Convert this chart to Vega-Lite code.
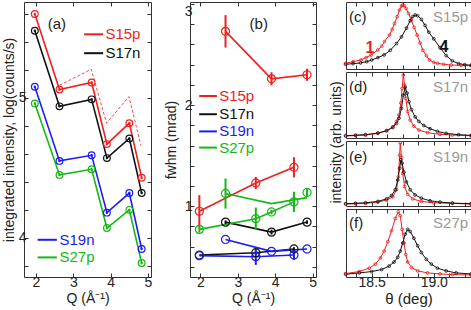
{
"$schema":"https://vega.github.io/schema/vega-lite/v6.json",
"padding":{"left":1,"top":1,"right":0,"bottom":0},
"config":{
 "font":"Liberation Sans",
 "view":{"stroke":"#333","strokeWidth":1},
 "axis":{"grid":false,"domain":false,"tickColor":"#333","tickSize":-4,"tickWidth":1,"labelFontSize":14,"titleFontSize":14,"labelColor":"#222","titleColor":"#222","titleFontWeight":"normal","labelPadding":2,"titlePadding":2,"labelOverlap":false,"tickCount":100}
},
"datasets":{
 "intens":[
  {"s":"S15p","Q":1.97,"v":5.60},{"s":"S15p","Q":2.63,"v":5.06},{"s":"S15p","Q":3.49,"v":5.11},{"s":"S15p","Q":3.90,"v":4.67},{"s":"S15p","Q":4.50,"v":4.82},{"s":"S15p","Q":4.83,"v":4.43},
  {"s":"S17n","Q":1.97,"v":5.48},{"s":"S17n","Q":2.63,"v":4.94},{"s":"S17n","Q":3.49,"v":4.99},{"s":"S17n","Q":3.90,"v":4.57},{"s":"S17n","Q":4.50,"v":4.71},{"s":"S17n","Q":4.83,"v":4.32},
  {"s":"S19n","Q":1.97,"v":5.08},{"s":"S19n","Q":2.63,"v":4.55},{"s":"S19n","Q":3.49,"v":4.59},{"s":"S19n","Q":3.90,"v":4.18},{"s":"S19n","Q":4.50,"v":4.32},{"s":"S19n","Q":4.83,"v":3.92},
  {"s":"S27p","Q":1.97,"v":4.96},{"s":"S27p","Q":2.63,"v":4.45},{"s":"S27p","Q":3.49,"v":4.49},{"s":"S27p","Q":3.90,"v":4.07},{"s":"S27p","Q":4.50,"v":4.20},{"s":"S27p","Q":4.83,"v":3.82}
 ],
 "dash":[{"Q":2.63,"v":5.09},{"Q":3.48,"v":5.205},{"Q":3.89,"v":4.82},{"Q":4.49,"v":5.01},{"Q":4.81,"v":4.66}],
 "fwhmP":[
  {"s":"S15p","Q":2.67,"v":2.73,"lo":2.57,"hi":2.89},{"s":"S15p","Q":3.90,"v":2.26,"lo":2.195,"hi":2.325},{"s":"S15p","Q":4.85,"v":2.30,"lo":2.24,"hi":2.36},
  {"s":"S15p","Q":1.97,"v":0.95,"lo":0.79,"hi":1.11},{"s":"S15p","Q":3.48,"v":1.23,"lo":1.17,"hi":1.29},{"s":"S15p","Q":4.50,"v":1.385,"lo":1.285,"hi":1.485},
  {"s":"S17n","Q":2.67,"v":0.843,"lo":0.825,"hi":0.86},{"s":"S17n","Q":3.90,"v":0.744,"lo":0.72,"hi":0.768},{"s":"S17n","Q":4.85,"v":0.843,"lo":0.825,"hi":0.86},
  {"s":"S17n","Q":4.50,"v":0.577,"lo":0.56,"hi":0.595},{"s":"S17n","Q":1.97,"v":0.517,"lo":0.517,"hi":0.517},{"s":"S17n","Q":3.48,"v":0.54,"lo":0.52,"hi":0.56},
  {"s":"S27p","Q":2.67,"v":1.126,"lo":0.976,"hi":1.275},{"s":"S27p","Q":4.85,"v":1.136,"lo":1.10,"hi":1.17},{"s":"S27p","Q":1.97,"v":0.771,"lo":0.74,"hi":0.80},
  {"s":"S27p","Q":3.48,"v":0.877,"lo":0.767,"hi":0.987},{"s":"S27p","Q":3.90,"v":0.943,"lo":0.92,"hi":0.965},{"s":"S27p","Q":4.50,"v":1.043,"lo":0.943,"hi":1.143},
  {"s":"S19n","Q":2.67,"v":0.671,"lo":0.671,"hi":0.671},{"s":"S19n","Q":3.90,"v":0.554,"lo":0.554,"hi":0.554},{"s":"S19n","Q":4.85,"v":0.577,"lo":0.577,"hi":0.577},
  {"s":"S19n","Q":1.97,"v":0.511,"lo":0.511,"hi":0.511},{"s":"S19n","Q":3.48,"v":0.501,"lo":0.42,"hi":0.58},{"s":"S19n","Q":4.50,"v":0.517,"lo":0.47,"hi":0.56}
 ],
 "fwhmL":[
  {"g":"15a","s":"S15p","Q":2.67,"v":2.73},{"g":"15a","s":"S15p","Q":3.90,"v":2.26},{"g":"15a","s":"S15p","Q":4.85,"v":2.30},
  {"g":"15b","s":"S15p","Q":1.97,"v":0.95},{"g":"15b","s":"S15p","Q":3.48,"v":1.23},{"g":"15b","s":"S15p","Q":4.50,"v":1.385},
  {"g":"17a","s":"S17n","Q":2.67,"v":0.843},{"g":"17a","s":"S17n","Q":3.90,"v":0.744},{"g":"17a","s":"S17n","Q":4.85,"v":0.843},
  {"g":"17b","s":"S17n","Q":1.97,"v":0.517},{"g":"17b","s":"S17n","Q":3.48,"v":0.54},{"g":"17b","s":"S17n","Q":4.50,"v":0.577},
  {"g":"27a","s":"S27p","Q":2.67,"v":1.126},{"g":"27a","s":"S27p","Q":3.90,"v":1.026},{"g":"27a","s":"S27p","Q":4.85,"v":1.085},
  {"g":"27b","s":"S27p","Q":1.97,"v":0.771},{"g":"27b","s":"S27p","Q":3.48,"v":0.877},{"g":"27b","s":"S27p","Q":3.90,"v":0.943},{"g":"27b","s":"S27p","Q":4.50,"v":1.043},
  {"g":"19a","s":"S19n","Q":2.67,"v":0.671},{"g":"19a","s":"S19n","Q":3.90,"v":0.554},{"g":"19a","s":"S19n","Q":4.85,"v":0.577},
  {"g":"19b","s":"S19n","Q":1.97,"v":0.511},{"g":"19b","s":"S19n","Q":3.48,"v":0.501},{"g":"19b","s":"S19n","Q":4.50,"v":0.517}
 ],
 "scan":[
  {"p":"c","s":"1","t":18.29,"v":0.085},{"p":"c","s":"1","t":18.35,"v":0.11},{"p":"c","s":"1","t":18.414,"v":0.134},{"p":"c","s":"1","t":18.455,"v":0.17},{"p":"c","s":"1","t":18.495,"v":0.209},{"p":"c","s":"1","t":18.549,"v":0.284},{"p":"c","s":"1","t":18.58,"v":0.34},{"p":"c","s":"1","t":18.603,"v":0.41},{"p":"c","s":"1","t":18.643,"v":0.507},{"p":"c","s":"1","t":18.665,"v":0.59},{"p":"c","s":"1","t":18.684,"v":0.68},{"p":"c","s":"1","t":18.705,"v":0.78},{"p":"c","s":"1","t":18.724,"v":0.88},{"p":"c","s":"1","t":18.74,"v":0.94},{"p":"c","s":"1","t":18.75,"v":0.955},{"p":"c","s":"1","t":18.762,"v":0.945},{"p":"c","s":"1","t":18.777,"v":0.905},{"p":"c","s":"1","t":18.797,"v":0.83},{"p":"c","s":"1","t":18.818,"v":0.73},{"p":"c","s":"1","t":18.842,"v":0.62},{"p":"c","s":"1","t":18.866,"v":0.507},{"p":"c","s":"1","t":18.89,"v":0.39},{"p":"c","s":"1","t":18.912,"v":0.28},{"p":"c","s":"1","t":18.94,"v":0.2},{"p":"c","s":"1","t":18.966,"v":0.134},{"p":"c","s":"1","t":19.0,"v":0.1},{"p":"c","s":"1","t":19.03,"v":0.085},{"p":"c","s":"1","t":19.08,"v":0.07},{"p":"c","s":"1","t":19.14,"v":0.06},{"p":"c","s":"1","t":19.22,"v":0.055},{"p":"c","s":"1","t":19.3,"v":0.05},
  {"p":"c","s":"4","t":18.29,"v":0.07},{"p":"c","s":"4","t":18.35,"v":0.08},{"p":"c","s":"4","t":18.41,"v":0.09},{"p":"c","s":"4","t":18.46,"v":0.11},{"p":"c","s":"4","t":18.5,"v":0.134},{"p":"c","s":"4","t":18.55,"v":0.17},{"p":"c","s":"4","t":18.6,"v":0.21},{"p":"c","s":"4","t":18.65,"v":0.28},{"p":"c","s":"4","t":18.7,"v":0.38},{"p":"c","s":"4","t":18.74,"v":0.48},{"p":"c","s":"4","t":18.78,"v":0.61},{"p":"c","s":"4","t":18.81,"v":0.72},{"p":"c","s":"4","t":18.83,"v":0.78},{"p":"c","s":"4","t":18.85,"v":0.806},{"p":"c","s":"4","t":18.87,"v":0.795},{"p":"c","s":"4","t":18.9,"v":0.74},{"p":"c","s":"4","t":18.93,"v":0.65},{"p":"c","s":"4","t":18.96,"v":0.55},{"p":"c","s":"4","t":19.0,"v":0.45},{"p":"c","s":"4","t":19.05,"v":0.32},{"p":"c","s":"4","t":19.1,"v":0.2},{"p":"c","s":"4","t":19.15,"v":0.12},{"p":"c","s":"4","t":19.2,"v":0.08},{"p":"c","s":"4","t":19.25,"v":0.065},{"p":"c","s":"4","t":19.3,"v":0.055},
  {"p":"d","s":"1","t":18.29,"v":0.03},{"p":"d","s":"1","t":18.37,"v":0.037},{"p":"d","s":"1","t":18.45,"v":0.045},{"p":"d","s":"1","t":18.55,"v":0.07},{"p":"d","s":"1","t":18.62,"v":0.11},{"p":"d","s":"1","t":18.67,"v":0.17},{"p":"d","s":"1","t":18.7,"v":0.25},{"p":"d","s":"1","t":18.72,"v":0.35},{"p":"d","s":"1","t":18.735,"v":0.53},{"p":"d","s":"1","t":18.745,"v":0.75},{"p":"d","s":"1","t":18.755,"v":0.955},{"p":"d","s":"1","t":18.765,"v":0.8},{"p":"d","s":"1","t":18.775,"v":0.6},{"p":"d","s":"1","t":18.79,"v":0.4},{"p":"d","s":"1","t":18.81,"v":0.27},{"p":"d","s":"1","t":18.84,"v":0.18},{"p":"d","s":"1","t":18.88,"v":0.12},{"p":"d","s":"1","t":18.95,"v":0.08},{"p":"d","s":"1","t":19.05,"v":0.056},{"p":"d","s":"1","t":19.15,"v":0.045},{"p":"d","s":"1","t":19.3,"v":0.035},
  {"p":"d","s":"4","t":18.29,"v":0.035},{"p":"d","s":"4","t":18.37,"v":0.042},{"p":"d","s":"4","t":18.45,"v":0.05},{"p":"d","s":"4","t":18.55,"v":0.075},{"p":"d","s":"4","t":18.62,"v":0.11},{"p":"d","s":"4","t":18.67,"v":0.16},{"p":"d","s":"4","t":18.7,"v":0.22},{"p":"d","s":"4","t":18.72,"v":0.3},{"p":"d","s":"4","t":18.74,"v":0.45},{"p":"d","s":"4","t":18.755,"v":0.65},{"p":"d","s":"4","t":18.77,"v":0.77},{"p":"d","s":"4","t":18.785,"v":0.68},{"p":"d","s":"4","t":18.8,"v":0.55},{"p":"d","s":"4","t":18.82,"v":0.43},{"p":"d","s":"4","t":18.85,"v":0.32},{"p":"d","s":"4","t":18.88,"v":0.25},{"p":"d","s":"4","t":18.92,"v":0.19},{"p":"d","s":"4","t":18.97,"v":0.14},{"p":"d","s":"4","t":19.03,"v":0.1},{"p":"d","s":"4","t":19.1,"v":0.07},{"p":"d","s":"4","t":19.2,"v":0.05},{"p":"d","s":"4","t":19.3,"v":0.04},
  {"p":"e","s":"1","t":18.29,"v":0.03},{"p":"e","s":"1","t":18.37,"v":0.035},{"p":"e","s":"1","t":18.45,"v":0.04},{"p":"e","s":"1","t":18.55,"v":0.06},{"p":"e","s":"1","t":18.62,"v":0.09},{"p":"e","s":"1","t":18.67,"v":0.14},{"p":"e","s":"1","t":18.7,"v":0.25},{"p":"e","s":"1","t":18.715,"v":0.45},{"p":"e","s":"1","t":18.725,"v":0.78},{"p":"e","s":"1","t":18.73,"v":0.97},{"p":"e","s":"1","t":18.74,"v":0.75},{"p":"e","s":"1","t":18.75,"v":0.5},{"p":"e","s":"1","t":18.765,"v":0.3},{"p":"e","s":"1","t":18.79,"v":0.18},{"p":"e","s":"1","t":18.83,"v":0.11},{"p":"e","s":"1","t":18.9,"v":0.07},{"p":"e","s":"1","t":19.0,"v":0.05},{"p":"e","s":"1","t":19.15,"v":0.04},{"p":"e","s":"1","t":19.3,"v":0.03},
  {"p":"e","s":"4","t":18.29,"v":0.035},{"p":"e","s":"4","t":18.37,"v":0.042},{"p":"e","s":"4","t":18.45,"v":0.05},{"p":"e","s":"4","t":18.55,"v":0.07},{"p":"e","s":"4","t":18.62,"v":0.11},{"p":"e","s":"4","t":18.66,"v":0.16},{"p":"e","s":"4","t":18.69,"v":0.25},{"p":"e","s":"4","t":18.71,"v":0.4},{"p":"e","s":"4","t":18.725,"v":0.58},{"p":"e","s":"4","t":18.735,"v":0.71},{"p":"e","s":"4","t":18.745,"v":0.66},{"p":"e","s":"4","t":18.76,"v":0.52},{"p":"e","s":"4","t":18.78,"v":0.37},{"p":"e","s":"4","t":18.81,"v":0.25},{"p":"e","s":"4","t":18.85,"v":0.17},{"p":"e","s":"4","t":18.9,"v":0.12},{"p":"e","s":"4","t":18.97,"v":0.08},{"p":"e","s":"4","t":19.05,"v":0.06},{"p":"e","s":"4","t":19.15,"v":0.045},{"p":"e","s":"4","t":19.3,"v":0.035},
  {"p":"f","s":"1","t":18.29,"v":0.05},{"p":"f","s":"1","t":18.4,"v":0.08},{"p":"f","s":"1","t":18.48,"v":0.13},{"p":"f","s":"1","t":18.53,"v":0.19},{"p":"f","s":"1","t":18.57,"v":0.28},{"p":"f","s":"1","t":18.6,"v":0.38},{"p":"f","s":"1","t":18.63,"v":0.52},{"p":"f","s":"1","t":18.66,"v":0.68},{"p":"f","s":"1","t":18.69,"v":0.86},{"p":"f","s":"1","t":18.715,"v":0.96},{"p":"f","s":"1","t":18.73,"v":0.9},{"p":"f","s":"1","t":18.745,"v":0.7},{"p":"f","s":"1","t":18.76,"v":0.5},{"p":"f","s":"1","t":18.775,"v":0.33},{"p":"f","s":"1","t":18.79,"v":0.22},{"p":"f","s":"1","t":18.82,"v":0.14},{"p":"f","s":"1","t":18.87,"v":0.09},{"p":"f","s":"1","t":18.95,"v":0.06},{"p":"f","s":"1","t":19.05,"v":0.045},{"p":"f","s":"1","t":19.15,"v":0.035},{"p":"f","s":"1","t":19.3,"v":0.03},
  {"p":"f","s":"4","t":18.29,"v":0.04},{"p":"f","s":"4","t":18.4,"v":0.06},{"p":"f","s":"4","t":18.5,"v":0.08},{"p":"f","s":"4","t":18.58,"v":0.11},{"p":"f","s":"4","t":18.64,"v":0.16},{"p":"f","s":"4","t":18.68,"v":0.22},{"p":"f","s":"4","t":18.71,"v":0.29},{"p":"f","s":"4","t":18.73,"v":0.38},{"p":"f","s":"4","t":18.75,"v":0.5},{"p":"f","s":"4","t":18.77,"v":0.63},{"p":"f","s":"4","t":18.79,"v":0.7},{"p":"f","s":"4","t":18.81,"v":0.67},{"p":"f","s":"4","t":18.84,"v":0.57},{"p":"f","s":"4","t":18.87,"v":0.46},{"p":"f","s":"4","t":18.9,"v":0.36},{"p":"f","s":"4","t":18.94,"v":0.26},{"p":"f","s":"4","t":18.98,"v":0.19},{"p":"f","s":"4","t":19.03,"v":0.13},{"p":"f","s":"4","t":19.1,"v":0.09},{"p":"f","s":"4","t":19.18,"v":0.06},{"p":"f","s":"4","t":19.3,"v":0.045}
 ]
},
"hconcat":[
 {"hconcat":[
  {"width":127,"height":275,
   "resolve":{"axis":{"x":"independent","y":"independent"}},
   "layer":[
   {"layer":[
    {"data":{"name":"intens"},"mark":{"type":"line","strokeWidth":1.6},
     "encoding":{
      "x":{"field":"Q","type":"quantitative","scale":{"domain":[1.68,5.08],"nice":false,"zero":false},"axis":{"values":[2,3,4,5],"tickCount":100,"format":"d","title":"Q (Å⁻¹)","labelOverlap":false}},
      "y":{"field":"v","type":"quantitative","scale":{"domain":[3.72,5.686],"nice":false,"zero":false},"axis":{"values":[3.8,4,4.2,4.4,4.6,4.8,5,5.2,5.4,5.6],"tickCount":100,"labelExpr":"datum.value == 4 ? '4' : datum.value == 5 ? '5' : ''","labelOverlap":false,"title":"integrated intensity, log(counts/s)"}},
      "color":{"field":"s","type":"nominal","scale":{"domain":["S15p","S17n","S19n","S27p"],"range":["#f01e1e","#111111","#1c1cf0","#14b814"]},"legend":null}}},
    {"data":{"name":"intens"},"mark":{"type":"point","filled":false,"size":45,"strokeWidth":1.2,"opacity":1},
     "encoding":{"x":{"field":"Q","type":"quantitative"},"y":{"field":"v","type":"quantitative"},"color":{"field":"s","type":"nominal"}}},
    {"data":{"name":"intens"},"mark":{"type":"point","filled":true,"size":6,"opacity":1},
     "encoding":{"x":{"field":"Q","type":"quantitative"},"y":{"field":"v","type":"quantitative"},"color":{"field":"s","type":"nominal"}}},
    {"data":{"name":"dash"},"mark":{"type":"line","strokeWidth":0.8,"strokeDash":[3,2],"color":"#f01e1e"},
     "encoding":{"x":{"field":"Q","type":"quantitative"},"y":{"field":"v","type":"quantitative"}}},
    {"data":{"values":[{}]},"mark":{"type":"text","text":"(a)","fontSize":15,"color":"#222"},"encoding":{"x":{"datum":2.56},"y":{"datum":5.53}}},
    {"data":{"values":[{}]},"mark":{"type":"rule","color":"#f01e1e","strokeWidth":2},"encoding":{"x":{"datum":3.29},"x2":{"datum":3.8},"y":{"datum":5.455}}},
    {"data":{"values":[{}]},"mark":{"type":"text","text":"S15p","fontSize":15,"align":"left","color":"#f01e1e"},"encoding":{"x":{"datum":3.86},"y":{"datum":5.455}}},
    {"data":{"values":[{}]},"mark":{"type":"rule","color":"#111111","strokeWidth":2},"encoding":{"x":{"datum":3.29},"x2":{"datum":3.8},"y":{"datum":5.32}}},
    {"data":{"values":[{}]},"mark":{"type":"text","text":"S17n","fontSize":15,"align":"left","color":"#111111"},"encoding":{"x":{"datum":3.86},"y":{"datum":5.32}}},
    {"data":{"values":[{}]},"mark":{"type":"rule","color":"#1c1cf0","strokeWidth":2},"encoding":{"x":{"datum":2.045},"x2":{"datum":2.56},"y":{"datum":3.986}}},
    {"data":{"values":[{}]},"mark":{"type":"text","text":"S19n","fontSize":15,"align":"left","color":"#1c1cf0"},"encoding":{"x":{"datum":2.63},"y":{"datum":3.986}}},
    {"data":{"values":[{}]},"mark":{"type":"rule","color":"#14b814","strokeWidth":2},"encoding":{"x":{"datum":2.045},"x2":{"datum":2.56},"y":{"datum":3.86}}},
    {"data":{"values":[{}]},"mark":{"type":"text","text":"S27p","fontSize":15,"align":"left","color":"#14b814"},"encoding":{"x":{"datum":2.63},"y":{"datum":3.86}}}
   ]},
   {"data":{"values":[{}]},"mark":{"type":"point","opacity":0},
    "encoding":{"x":{"datum":3,"type":"quantitative","axis":{"orient":"top","values":[2,3,4,5],"tickCount":100,"labels":false,"title":null}},
     "y":{"datum":5,"type":"quantitative","axis":{"orient":"right","values":[3.8,4,4.2,4.4,4.6,4.8,5,5.2,5.4,5.6],"tickCount":100,"labels":false,"title":null}}}}
   ]},
  {"width":126,"height":275,
   "resolve":{"axis":{"x":"independent","y":"independent"}},
   "layer":[
   {"layer":[
    {"data":{"name":"fwhmL"},"mark":{"type":"line","strokeWidth":1.6},
     "encoding":{
      "x":{"field":"Q","type":"quantitative","scale":{"domain":[1.72,5.09],"nice":false,"zero":false},"axis":{"values":[2,3,4,5],"tickCount":100,"format":"d","title":"Q (Å⁻¹)","labelOverlap":false}},
      "y":{"field":"v","type":"quantitative","scale":{"domain":[0.3,3.02],"nice":false,"zero":false},"axis":{"values":[0.4,0.6,0.8,1,1.2,1.4,1.6,1.8,2,2.2,2.4,2.6,2.8,3],"tickCount":100,"labelExpr":"datum.value == 1 ? '1' : datum.value == 2 ? '2' : datum.value == 3 ? '3' : ''","labelOverlap":false,"labelFlush":4,"title":"fwhm (mrad)","titlePadding":6}},
      "color":{"field":"s","type":"nominal","scale":{"domain":["S15p","S17n","S19n","S27p"],"range":["#f01e1e","#111111","#1c1cf0","#14b814"]},"legend":null},
      "detail":{"field":"g","type":"nominal"}}},
    {"data":{"name":"fwhmP"},"mark":{"type":"rule","strokeWidth":2},
     "encoding":{"x":{"field":"Q","type":"quantitative"},"y":{"field":"lo","type":"quantitative"},"y2":{"field":"hi"},"color":{"field":"s","type":"nominal"}}},
    {"data":{"name":"fwhmP"},"mark":{"type":"point","filled":false,"size":65,"strokeWidth":1.2,"opacity":1},
     "encoding":{"x":{"field":"Q","type":"quantitative"},"y":{"field":"v","type":"quantitative"},"color":{"field":"s","type":"nominal"}}},
    {"data":{"values":[{}]},"mark":{"type":"text","text":"(b)","fontSize":15,"color":"#222"},"encoding":{"x":{"datum":3.56},"y":{"datum":2.8}}},
    {"data":{"values":[{}]},"mark":{"type":"rule","color":"#f01e1e","strokeWidth":2},"encoding":{"x":{"datum":1.965},"x2":{"datum":2.44},"y":{"datum":2.09}}},
    {"data":{"values":[{}]},"mark":{"type":"text","text":"S15p","fontSize":15,"align":"left","color":"#f01e1e"},"encoding":{"x":{"datum":2.5},"y":{"datum":2.09}}},
    {"data":{"values":[{}]},"mark":{"type":"rule","color":"#111111","strokeWidth":2},"encoding":{"x":{"datum":1.965},"x2":{"datum":2.44},"y":{"datum":1.91}}},
    {"data":{"values":[{}]},"mark":{"type":"text","text":"S17n","fontSize":15,"align":"left","color":"#111111"},"encoding":{"x":{"datum":2.5},"y":{"datum":1.91}}},
    {"data":{"values":[{}]},"mark":{"type":"rule","color":"#1c1cf0","strokeWidth":2},"encoding":{"x":{"datum":1.965},"x2":{"datum":2.44},"y":{"datum":1.74}}},
    {"data":{"values":[{}]},"mark":{"type":"text","text":"S19n","fontSize":15,"align":"left","color":"#1c1cf0"},"encoding":{"x":{"datum":2.5},"y":{"datum":1.74}}},
    {"data":{"values":[{}]},"mark":{"type":"rule","color":"#14b814","strokeWidth":2},"encoding":{"x":{"datum":1.965},"x2":{"datum":2.44},"y":{"datum":1.58}}},
    {"data":{"values":[{}]},"mark":{"type":"text","text":"S27p","fontSize":15,"align":"left","color":"#14b814"},"encoding":{"x":{"datum":2.5},"y":{"datum":1.58}}}
   ]},
   {"data":{"values":[{}]},"mark":{"type":"point","opacity":0},
    "encoding":{"x":{"datum":3,"type":"quantitative","axis":{"orient":"top","values":[2,3,4,5],"tickCount":100,"labels":false,"title":null}},
     "y":{"datum":2,"type":"quantitative","axis":{"orient":"right","values":[0.4,0.6,0.8,1,1.2,1.4,1.6,1.8,2,2.2,2.4,2.6,2.8,3],"tickCount":100,"labels":false,"title":null}}}}
   ]}
  ],"spacing":10},
 {"vconcat":[
  {"width":125,"height":67,
   "resolve":{"axis":{"x":"independent"}},
   "layer":[
   {"layer":[
    {"data":{"name":"scan"},"transform":[{"filter":"datum.p == 'c'"}],"mark":{"type":"line","strokeWidth":1},
     "encoding":{"x":{"field":"t","type":"quantitative","scale":{"domain":[18.293,19.3],"nice":false,"zero":false},"axis":{"values":[18.375,18.5,18.625,18.75,18.875,19,19.125,19.25],"tickCount":100,"labels":false,"title":null}},
      "y":{"field":"v","type":"quantitative","scale":{"domain":[0,1],"nice":false},"axis":{"labels":false,"ticks":false,"title":null}},
      "color":{"field":"s","type":"nominal","scale":{"domain":["1","4"],"range":["#f01e1e","#111111"]},"legend":null}}},
    {"data":{"name":"scan"},"transform":[{"filter":"datum.p == 'c'"}],"mark":{"type":"point","filled":false,"size":8,"strokeWidth":0.8,"opacity":1},
     "encoding":{"x":{"field":"t","type":"quantitative"},"y":{"field":"v","type":"quantitative"},"color":{"field":"s","type":"nominal"}}},
    {"data":{"values":[{}]},"mark":{"type":"text","text":"(c)","fontSize":15,"align":"left","color":"#222"},"encoding":{"x":{"datum":18.317},"y":{"datum":0.78}}},
    {"data":{"values":[{}]},"mark":{"type":"text","text":"S15p","fontSize":15,"align":"right","color":"#999"},"encoding":{"x":{"datum":19.277},"y":{"datum":0.78}}},
    {"data":{"values":[{}]},"mark":{"type":"text","text":"1","fontSize":16,"fontWeight":"bold","color":"#f01e1e"},"encoding":{"x":{"datum":18.486},"y":{"datum":0.31}}},
    {"data":{"values":[{}]},"mark":{"type":"text","text":"4","fontSize":16,"fontWeight":"bold","color":"#111111"},"encoding":{"x":{"datum":19.083},"y":{"datum":0.33}}}
   ]},
   {"data":{"values":[{}]},"mark":{"type":"point","opacity":0},
    "encoding":{"x":{"datum":18.8,"type":"quantitative","axis":{"orient":"top","values":[18.375,18.5,18.625,18.75,18.875,19,19.125,19.25],"tickCount":100,"labels":false,"title":null}},"y":{"datum":0.5,"type":"quantitative"}}}
   ]},
  {"width":125,"height":66,
   "resolve":{"axis":{"x":"independent"}},
   "layer":[
   {"layer":[
    {"data":{"name":"scan"},"transform":[{"filter":"datum.p == 'd'"}],"mark":{"type":"line","strokeWidth":1},
     "encoding":{"x":{"field":"t","type":"quantitative","scale":{"domain":[18.293,19.3],"nice":false,"zero":false},"axis":{"values":[18.375,18.5,18.625,18.75,18.875,19,19.125,19.25],"tickCount":100,"labels":false,"title":null}},
      "y":{"field":"v","type":"quantitative","scale":{"domain":[0,1],"nice":false},"axis":{"labels":false,"ticks":false,"title":"intensity (arb. units)","titleY":70,"titlePadding":3}},
      "color":{"field":"s","type":"nominal","scale":{"domain":["1","4"],"range":["#f01e1e","#111111"]},"legend":null}}},
    {"data":{"name":"scan"},"transform":[{"filter":"datum.p == 'd'"}],"mark":{"type":"point","filled":false,"size":8,"strokeWidth":0.8,"opacity":1},
     "encoding":{"x":{"field":"t","type":"quantitative"},"y":{"field":"v","type":"quantitative"},"color":{"field":"s","type":"nominal"}}},
    {"data":{"values":[{}]},"mark":{"type":"text","text":"(d)","fontSize":15,"align":"left","color":"#222"},"encoding":{"x":{"datum":18.317},"y":{"datum":0.77}}},
    {"data":{"values":[{}]},"mark":{"type":"text","text":"S17n","fontSize":15,"align":"right","color":"#999"},"encoding":{"x":{"datum":19.277},"y":{"datum":0.77}}}
   ]},
   {"data":{"values":[{}]},"mark":{"type":"point","opacity":0},
    "encoding":{"x":{"datum":18.8,"type":"quantitative","axis":{"orient":"top","values":[18.375,18.5,18.625,18.75,18.875,19,19.125,19.25],"tickCount":100,"labels":false,"title":null}},"y":{"datum":0.5,"type":"quantitative"}}}
   ]},
  {"width":125,"height":65,
   "resolve":{"axis":{"x":"independent"}},
   "layer":[
   {"layer":[
    {"data":{"name":"scan"},"transform":[{"filter":"datum.p == 'e'"}],"mark":{"type":"line","strokeWidth":1},
     "encoding":{"x":{"field":"t","type":"quantitative","scale":{"domain":[18.293,19.3],"nice":false,"zero":false},"axis":{"values":[18.375,18.5,18.625,18.75,18.875,19,19.125,19.25],"tickCount":100,"labels":false,"title":null}},
      "y":{"field":"v","type":"quantitative","scale":{"domain":[0,1],"nice":false},"axis":{"labels":false,"ticks":false,"title":null}},
      "color":{"field":"s","type":"nominal","scale":{"domain":["1","4"],"range":["#f01e1e","#111111"]},"legend":null}}},
    {"data":{"name":"scan"},"transform":[{"filter":"datum.p == 'e'"}],"mark":{"type":"point","filled":false,"size":8,"strokeWidth":0.8,"opacity":1},
     "encoding":{"x":{"field":"t","type":"quantitative"},"y":{"field":"v","type":"quantitative"},"color":{"field":"s","type":"nominal"}}},
    {"data":{"values":[{}]},"mark":{"type":"text","text":"(e)","fontSize":15,"align":"left","color":"#222"},"encoding":{"x":{"datum":18.317},"y":{"datum":0.76}}},
    {"data":{"values":[{}]},"mark":{"type":"text","text":"S19n","fontSize":15,"align":"right","color":"#999"},"encoding":{"x":{"datum":19.277},"y":{"datum":0.76}}}
   ]},
   {"data":{"values":[{}]},"mark":{"type":"point","opacity":0},
    "encoding":{"x":{"datum":18.8,"type":"quantitative","axis":{"orient":"top","values":[18.375,18.5,18.625,18.75,18.875,19,19.125,19.25],"tickCount":100,"labels":false,"title":null}},"y":{"datum":0.5,"type":"quantitative"}}}
   ]},
  {"width":125,"height":68,
   "resolve":{"axis":{"x":"independent"}},
   "layer":[
   {"layer":[
    {"data":{"name":"scan"},"transform":[{"filter":"datum.p == 'f'"}],"mark":{"type":"line","strokeWidth":1},
     "encoding":{"x":{"field":"t","type":"quantitative","scale":{"domain":[18.293,19.3],"nice":false,"zero":false},"axis":{"values":[18.375,18.5,18.625,18.75,18.875,19,19.125,19.25],"tickCount":100,"labelExpr":"datum.value == 18.5 ? '18.5' : datum.value == 19 ? '19.0' : ''","labelOverlap":false,"title":"θ (deg)","titleFontSize":15}},
      "y":{"field":"v","type":"quantitative","scale":{"domain":[0,1],"nice":false},"axis":{"labels":false,"ticks":false,"title":null}},
      "color":{"field":"s","type":"nominal","scale":{"domain":["1","4"],"range":["#f01e1e","#111111"]},"legend":null}}},
    {"data":{"name":"scan"},"transform":[{"filter":"datum.p == 'f'"}],"mark":{"type":"point","filled":false,"size":8,"strokeWidth":0.8,"opacity":1},
     "encoding":{"x":{"field":"t","type":"quantitative"},"y":{"field":"v","type":"quantitative"},"color":{"field":"s","type":"nominal"}}},
    {"data":{"values":[{}]},"mark":{"type":"text","text":"(f)","fontSize":15,"align":"left","color":"#222"},"encoding":{"x":{"datum":18.317},"y":{"datum":0.79}}},
    {"data":{"values":[{}]},"mark":{"type":"text","text":"S27p","fontSize":15,"align":"right","color":"#999"},"encoding":{"x":{"datum":19.277},"y":{"datum":0.79}}}
   ]},
   {"data":{"values":[{}]},"mark":{"type":"point","opacity":0},
    "encoding":{"x":{"datum":18.8,"type":"quantitative","axis":{"orient":"top","values":[18.375,18.5,18.625,18.75,18.875,19,19.125,19.25],"tickCount":100,"labels":false,"title":null}},"y":{"datum":0.5,"type":"quantitative"}}}
   ]}
 ],"spacing":3,"bounds":"flush"}
],
"spacing":10
}
